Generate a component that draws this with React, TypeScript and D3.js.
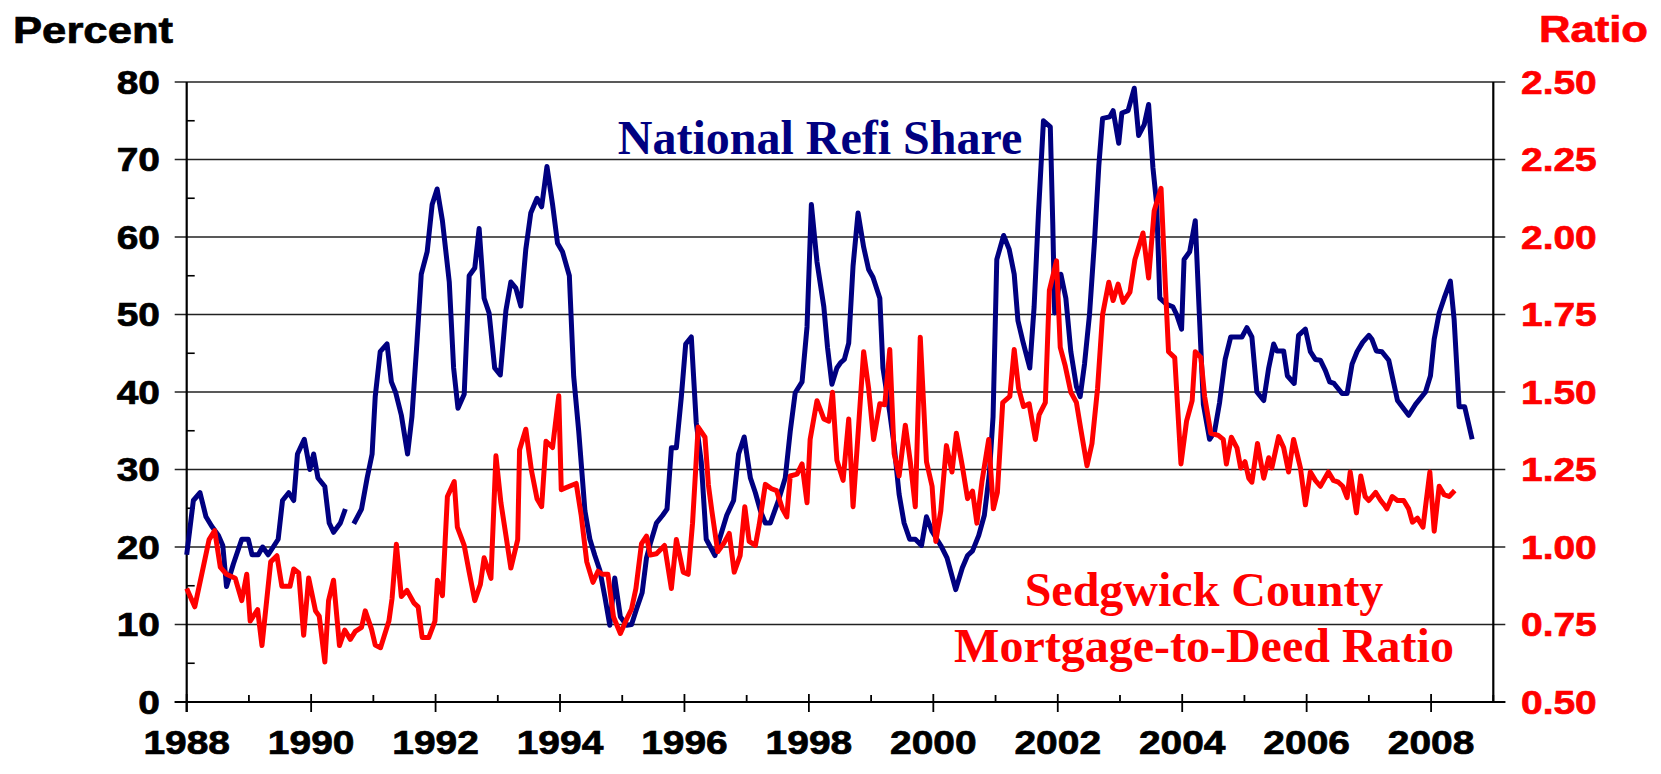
import React from 'react';
import * as d3 from 'd3';

// National refi share (percent), decimal year vertices; null = gap
const refiYears = [
  1988.0, 1988.107, 1988.214, 1988.31, 1988.4, 1988.51, 1988.58, 1988.64, 1988.75, 1988.885, 1988.99,
  1989.05, 1989.15, 1989.22, 1989.31, 1989.47, 1989.54, 1989.64, 1989.72, 1989.78, 1989.89, 1989.98,
  1990.04, 1990.11, 1990.22, 1990.29, 1990.36, 1990.47, 1990.55, 1990.62, 1990.685, 1990.81, 1990.9, 1990.98,
  1991.03, 1991.11, 1991.22, 1991.29, 1991.36, 1991.45, 1991.55, 1991.62, 1991.7, 1991.77, 1991.865, 1991.945,
  1992.025, 1992.11, 1992.22, 1992.29, 1992.36, 1992.46, 1992.54, 1992.63, 1992.7, 1992.78, 1992.86, 1992.95,
  1993.04, 1993.13, 1993.21, 1993.29, 1993.37, 1993.45, 1993.53, 1993.63, 1993.705, 1993.79, 1993.88, 1993.96,
  1994.04, 1994.15, 1994.22, 1994.3, 1994.4, 1994.48, 1994.56, 1994.64, 1994.72, 1994.8, 1994.88, 1994.97,
  1995.07, 1995.15, 1995.23, 1995.32, 1995.39, 1995.45, 1995.55, 1995.65, 1995.72, 1995.79, 1995.87, 1995.95,
  1996.02, 1996.11, 1996.19, 1996.27, 1996.35, 1996.49, 1996.57, 1996.68, 1996.79, 1996.87, 1996.96,
  1997.06, 1997.14, 1997.22, 1997.3, 1997.38, 1997.51, 1997.62, 1997.7, 1997.78, 1997.89, 1997.97,
  1998.04, 1998.13, 1998.24, 1998.3, 1998.37, 1998.45, 1998.51, 1998.57, 1998.64, 1998.71, 1998.79, 1998.88, 1998.96,
  1999.03, 1999.14, 1999.19, 1999.3, 1999.37, 1999.45, 1999.53, 1999.62, 1999.71, 1999.81, 1999.89, 1999.98,
  2000.12, 2000.22, 2000.36, 2000.465, 2000.55, 2000.63, 2000.73, 2000.82, 2000.9, 2000.96,
  2001.02, 2001.13, 2001.22, 2001.3, 2001.36, 2001.44, 2001.55, 2001.62, 2001.69, 2001.77, 2001.88, 2001.92, 2001.95,
  2002.05, 2002.13, 2002.21, 2002.3, 2002.36, 2002.43, 2002.51, 2002.59, 2002.66, 2002.72, 2002.835, 2002.89, 2002.98,
  2003.03, 2003.13, 2003.23, 2003.3, 2003.39, 2003.46, 2003.53, 2003.59, 2003.64, 2003.75, 2003.85, 2003.91, 2003.99,
  2004.03, 2004.12, 2004.21, 2004.27, 2004.34, 2004.44, 2004.52, 2004.6, 2004.69, 2004.78, 2004.88, 2004.96,
  2005.04, 2005.12, 2005.2, 2005.31, 2005.39, 2005.47, 2005.52, 2005.63, 2005.69, 2005.8, 2005.87, 2005.98,
  2006.06, 2006.14, 2006.22, 2006.3, 2006.37, 2006.44, 2006.57, 2006.65, 2006.73, 2006.81, 2006.9, 2007.0,
  2007.05, 2007.12, 2007.21, 2007.32, 2007.39, 2007.46, 2007.64, 2007.75, 2007.91, 2007.99,
  2008.05, 2008.13, 2008.21, 2008.31, 2008.37, 2008.45, 2008.54, 2008.66,
];
const refiShare: (number | null)[] = [
  19, 26, 27, 23.9, 22.7, 21.5, 20.2, 14.9, 17.8, 21, 21,
  19, 19, 20, 19, 21, 26, 27, 26, 32, 33.9, 30,
  32, 28.9, 27.8, 23.1, 21.9, 23.1, 24.9, null, 23, 24.9, 28.9, 32,
  39.4, 45.2, 46.2, 41.3, 39.9, 37, 32, 36.8, 46.3, 55.2, 58.1, 64.2,
  66.2, 62.1, 54.2, 43.1, 37.9, 39.7, 55, 56, 61.1, 52.1, 50.2, 43.1,
  42.2, 50.5, 54.2, 53.4, 51.1, 58.4, 63.1, 65, 63.9, 69.1, 64.2, 59.2,
  58.1, 55, 42, 35, 24.7, 21, 18.9, 17, 13.6, 9.9, 16, 11,
  9.9, 10, 12, 14.1, 18.6, 20.4, 23.1, 24.1, 24.9, 32.8, 32.8, 39.4,
  46.2, 47.1, 36, 31, 21, 18.9, 21.2, 24.1, 26, 32, 34.2,
  28.9, 27, 24.7, 23.1, 23.1, 26, 28.9, 34.9, 39.9, 41.3, 48.4,
  64.2, 56.8, 51, 45.7, 41, 43.1, 43.8, 44.2, 46.3, 56.3, 63.1, 58.7, 55.8,
  54.8, 52.1, 43.1, 37.3, 33.1, 26.8, 23.1, 21, 21, 20.2, 23.9, 22,
  20.2, 18.6, 14.5, 17.3, 18.9, 19.5, 21.5, 24.1, 29.4, 36.8,
  57.1, 60.2, 58.4, 55.2, 49.2, 46.5, 43.1, 51, 63.1, 75, 74.2, 61.6, 50.2,
  55.2, 52.1, 45.2, 40.7, 39.4, 43.6, 50, 59.4, 69.2, 75.3, 75.5, 76.3, 72.1,
  76, 76.3, 79.2, 73.1, 74.5, 77.1, 68.9, 64.2, 52.1, 51.3, 51, 50, 48.1,
  57.1, 58.1, 62.1, 51, 38.4, 33.9, 34.9, 38.6, 44.2, 47.1, 47.1, 47.1,
  48.3, 47.1, 40, 38.9, 43.1, 46.2, 45.3, 45.3, 42.1, 41.1, 47.3, 48.1,
  45.2, 44.2, 44.1, 42.8, 41.3, 41.1, 39.8, 39.8, 43.6, 45.2, 46.4, 47.3,
  46.8, 45.3, 45.2, 44.1, 41.5, 38.9, 37, 38.4, 40, 42.1,
  46.8, 50.2, 52.1, 54.3, 49.4, 38.1, 38.1, 33.9,
];

// Sedgwick County mortgage-to-deed ratio, decimal year vertices
const ratioYears = [
  1988.0, 1988.13, 1988.27, 1988.36, 1988.45, 1988.54, 1988.64, 1988.78, 1988.885, 1988.965,
  1989.02, 1989.14, 1989.21, 1989.35, 1989.45, 1989.53, 1989.66, 1989.72, 1989.8, 1989.88, 1989.96,
  1990.07, 1990.13, 1990.22, 1990.28, 1990.36, 1990.455, 1990.54, 1990.63, 1990.71, 1990.81, 1990.87, 1990.97,
  1991.03, 1991.115, 1991.25, 1991.3, 1991.37, 1991.45, 1991.54, 1991.65, 1991.72, 1991.785, 1991.89, 1991.99,
  1992.03, 1992.11, 1992.19, 1992.3, 1992.35, 1992.46, 1992.54, 1992.63, 1992.72, 1992.78, 1992.89, 1992.97,
  1993.05, 1993.13, 1993.21, 1993.32, 1993.35, 1993.45, 1993.54, 1993.63, 1993.705, 1993.775, 1993.88, 1993.98,
  1994.02, 1994.15, 1994.26, 1994.34, 1994.43, 1994.53, 1994.61, 1994.68, 1994.77, 1994.86, 1994.97,
  1995.07, 1995.15, 1995.22, 1995.31, 1995.39, 1995.45, 1995.55, 1995.68, 1995.79, 1995.87, 1995.98,
  1996.06, 1996.13, 1996.22, 1996.33, 1996.385, 1996.44, 1996.535, 1996.63, 1996.72, 1996.8, 1996.895, 1996.97,
  1997.04, 1997.14, 1997.2, 1997.3, 1997.4, 1997.48, 1997.575, 1997.645, 1997.7, 1997.81, 1997.89, 1997.97,
  1998.02, 1998.13, 1998.24, 1998.32, 1998.38, 1998.45, 1998.55, 1998.64, 1998.71, 1998.8, 1998.88, 1998.96,
  1999.04, 1999.14, 1999.22, 1999.3, 1999.37, 1999.45, 1999.55, 1999.63, 1999.71, 1999.79, 1999.89, 1999.98,
  2000.04, 2000.12, 2000.21, 2000.3, 2000.37, 2000.465, 2000.55, 2000.63, 2000.7, 2000.78, 2000.89, 2000.965,
  2001.03, 2001.115, 2001.23, 2001.3, 2001.37, 2001.45, 2001.54, 2001.64, 2001.7, 2001.8, 2001.865, 2001.98,
  2002.04, 2002.12, 2002.21, 2002.3, 2002.37, 2002.47, 2002.55, 2002.64, 2002.72, 2002.82, 2002.89, 2002.97,
  2003.05, 2003.16, 2003.24, 2003.37, 2003.46, 2003.55, 2003.66, 2003.73, 2003.78, 2003.88, 2003.98,
  2004.07, 2004.16, 2004.21, 2004.3, 2004.36, 2004.46, 2004.58, 2004.66, 2004.71, 2004.79, 2004.88, 2004.94,
  2005.01, 2005.07, 2005.12, 2005.21, 2005.31, 2005.39, 2005.44, 2005.55, 2005.63, 2005.71, 2005.79, 2005.9, 2005.98,
  2006.06, 2006.14, 2006.22, 2006.35, 2006.43, 2006.51, 2006.58, 2006.65, 2006.7, 2006.8, 2006.87, 2006.94, 2007.0,
  2007.11, 2007.19, 2007.26, 2007.29, 2007.375, 2007.46, 2007.56, 2007.64, 2007.7, 2007.78, 2007.87, 2007.98,
  2008.05, 2008.13, 2008.21, 2008.29, 2008.38,
];
const ratioValues = [
  0.866, 0.807, 0.939, 1.024, 1.053, 0.935, 0.912, 0.899, 0.827, 0.912,
  0.761, 0.798, 0.682, 0.952, 0.972, 0.873, 0.873, 0.929, 0.916, 0.715, 0.9,
  0.794, 0.777, 0.629, 0.827, 0.893, 0.682, 0.732, 0.702, 0.728, 0.741, 0.794, 0.735,
  0.684, 0.675, 0.761, 0.833, 1.009, 0.84, 0.86, 0.82, 0.807, 0.708, 0.708, 0.761,
  0.893, 0.843, 1.163, 1.211, 1.064, 1.005, 0.919, 0.827, 0.879, 0.965, 0.899, 1.294,
  1.143, 1.038, 0.932, 1.024, 1.314, 1.38, 1.248, 1.156, 1.13, 1.341, 1.321, 1.488,
  1.185, 1.196, 1.205, 1.103, 0.952, 0.886, 0.922, 0.912, 0.912, 0.774, 0.721,
  0.767, 0.8, 0.866, 1.011, 1.035, 0.974, 0.978, 1.005, 0.866, 1.024, 0.919,
  0.912, 1.077, 1.387, 1.354, 1.2, 1.117, 0.985, 1.011, 1.044, 0.919, 0.972, 1.13,
  1.018, 1.005, 1.07, 1.202, 1.188, 1.182, 1.123, 1.097, 1.229, 1.235, 1.268, 1.143,
  1.347, 1.472, 1.413, 1.406, 1.499, 1.28, 1.215, 1.413, 1.13, 1.393, 1.63, 1.512,
  1.347, 1.462, 1.459, 1.637, 1.301, 1.229, 1.393, 1.275, 1.13, 1.677, 1.275, 1.196,
  1.018, 1.117, 1.327, 1.242, 1.367, 1.262, 1.156, 1.18, 1.077, 1.209, 1.347, 1.123,
  1.176, 1.466, 1.486, 1.637, 1.512, 1.453, 1.462, 1.347, 1.426, 1.466, 1.828, 1.923,
  1.644, 1.584, 1.499, 1.466, 1.38, 1.262, 1.334, 1.512, 1.749, 1.854, 1.795, 1.848,
  1.789, 1.822, 1.927, 2.013, 1.868, 2.085, 2.157, 1.841, 1.63, 1.611, 1.268,
  1.406, 1.472, 1.63, 1.611, 1.486, 1.367, 1.36, 1.347, 1.268, 1.354, 1.32, 1.255,
  1.275, 1.222, 1.209, 1.334, 1.222, 1.288, 1.255, 1.356, 1.321, 1.242, 1.347, 1.255, 1.136,
  1.242, 1.215, 1.196, 1.242, 1.215, 1.209, 1.196, 1.159, 1.242, 1.11, 1.229, 1.163, 1.15,
  1.176, 1.15, 1.132, 1.123, 1.163, 1.15, 1.15, 1.123, 1.08, 1.093, 1.064, 1.242,
  1.051, 1.196, 1.169, 1.163, 1.182,
];

const leftTicks = [0, 10, 20, 30, 40, 50, 60, 70, 80];
const leftMinorTicks = [5, 15, 25, 35, 45, 55, 65, 75];
const rightTicks = [0.5, 0.75, 1.0, 1.25, 1.5, 1.75, 2.0, 2.25, 2.5];
const yearTicks = d3.range(1988, 2010);
const yearLabels = [1988, 1990, 1992, 1994, 1996, 1998, 2000, 2002, 2004, 2006, 2008];

const SANS = "'Liberation Sans', Arial, sans-serif";
const SERIF = "'Liberation Serif', 'Times New Roman', serif";
const SX = 1.18;

function SText(props: { x: number; y: number; size: number; anchor: string; fill: string; children: any }) {
  return (
    <text
      transform={`translate(${props.x},${props.y}) scale(${SX},1)`}
      fontFamily={SANS}
      fontWeight="bold"
      fontSize={props.size}
      textAnchor={props.anchor as any}
      fill={props.fill}
      stroke={props.fill}
      strokeWidth={0.7}
    >
      {props.children}
    </text>
  );
}

export default function App() {
  const W = 1661;
  const H = 774;
  const left = 186.7;
  const right = 1493.3;
  const top = 82;
  const bottom = 702;

  const x = d3.scaleLinear().domain([1988, 2009]).range([left, right]);
  const yL = d3.scaleLinear().domain([0, 80]).range([bottom, top]);
  const yR = d3.scaleLinear().domain([0.5, 2.5]).range([bottom, top]);

  const refiIdx = d3.range(refiYears.length);
  const refiPath = d3
    .line<number>()
    .defined((i) => refiShare[i] != null)
    .x((i) => x(refiYears[i]))
    .y((i) => yL(refiShare[i] as number))(refiIdx);

  const ratioIdx = d3.range(ratioYears.length);
  const ratioPath = d3
    .line<number>()
    .x((i) => x(ratioYears[i]))
    .y((i) => yR(ratioValues[i]))(ratioIdx);

  const labelSize = 33;

  return (
    <svg
      width={W}
      height={H}
      style={{ position: 'absolute', left: 0, top: 0, background: '#fff' }}
    >
      <rect x={0} y={0} width={W} height={H} fill="#fff" />
      {/* gridlines */}
      {leftTicks.map((t) => (
        <line
          key={'g' + t}
          x1={left - 12}
          x2={right + 12}
          y1={yL(t)}
          y2={yL(t)}
          stroke="#222"
          strokeWidth={1.4}
        />
      ))}
      {/* minor left ticks */}
      {leftMinorTicks.map((t) => (
        <line key={'m' + t} x1={left} x2={left + 8} y1={yL(t)} y2={yL(t)} stroke="#000" strokeWidth={1.6} />
      ))}
      {/* x ticks */}
      {yearTicks.map((yr) => (
        <line
          key={'xt' + yr}
          x1={x(yr)}
          x2={x(yr)}
          y1={yr % 2 === 0 ? bottom - 8 : bottom - 7}
          y2={yr % 2 === 0 ? bottom + 10 : bottom}
          stroke="#000"
          strokeWidth={1.8}
        />
      ))}
      {/* axes */}
      <line x1={left} x2={left} y1={top} y2={bottom + 10} stroke="#000" strokeWidth={2.2} />
      <line x1={right} x2={right} y1={top} y2={bottom} stroke="#000" strokeWidth={2.2} />
      <line x1={left - 12} x2={right + 12} y1={bottom} y2={bottom} stroke="#000" strokeWidth={2} />

      {/* lines */}
      <path d={refiPath || ''} fill="none" stroke="#000080" strokeWidth={5} strokeLinejoin="round" />
      <path d={ratioPath || ''} fill="none" stroke="#ff0000" strokeWidth={5} strokeLinejoin="round" />

      {/* left labels */}
      {leftTicks.map((t) => (
        <SText key={'ll' + t} x={160} y={yL(t) + 11.5} size={labelSize} anchor="end" fill="#000">
          {t}
        </SText>
      ))}
      {/* right labels */}
      {rightTicks.map((t) => (
        <SText key={'rl' + t} x={1521} y={yR(t) + 11.5} size={labelSize} anchor="start" fill="#ff0000">
          {t.toFixed(2)}
        </SText>
      ))}
      {/* x labels */}
      {yearLabels.map((yr) => (
        <SText key={'xl' + yr} x={x(yr)} y={754} size={labelSize} anchor="middle" fill="#000">
          {yr}
        </SText>
      ))}

      {/* axis titles */}
      <SText x={13} y={43} size={37} anchor="start" fill="#000">
        Percent
      </SText>
      <SText x={1648} y={42} size={37} anchor="end" fill="#ff0000">
        Ratio
      </SText>

      {/* annotations */}
      <text x={820} y={154} fontFamily={SERIF} fontWeight="bold" fontSize={48} textAnchor="middle" fill="#000080">
        National Refi Share
      </text>
      <text x={1204} y={606} fontFamily={SERIF} fontWeight="bold" fontSize={48} textAnchor="middle" fill="#ff0000">
        Sedgwick County
      </text>
      <text x={1204} y={662} fontFamily={SERIF} fontWeight="bold" fontSize={48} textAnchor="middle" fill="#ff0000">
        Mortgage-to-Deed Ratio
      </text>
    </svg>
  );
}
